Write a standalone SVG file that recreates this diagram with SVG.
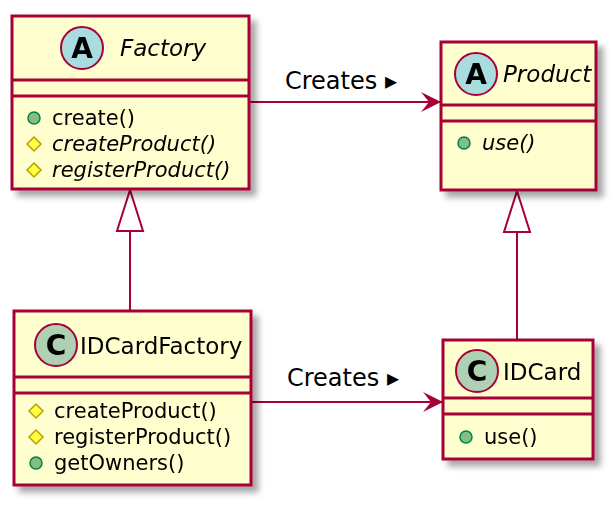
<svg xmlns="http://www.w3.org/2000/svg" width="614" height="505" viewBox="0 0 614 505">
<defs>
<filter id="sh" x="-10%" y="-10%" width="130%" height="130%"><feGaussianBlur in="SourceAlpha" stdDeviation="3"/><feOffset dx="6" dy="6"/><feComponentTransfer><feFuncA type="linear" slope="0.35"/></feComponentTransfer><feMerge><feMergeNode/><feMergeNode in="SourceGraphic"/></feMerge></filter>
<marker id="arr" markerWidth="22" markerHeight="20" refX="20" refY="10" orient="auto" markerUnits="userSpaceOnUse"><path d="M0,0 L20,10 L0,20 L8,10 Z" fill="#A80036"/></marker>
</defs>
<style>
.box{fill:#FEFECE;stroke:#A80036;stroke-width:3}
.ln{stroke:#A80036;stroke-width:3}
.t{font-family:"DejaVu Sans",sans-serif;font-size:23px;fill:#000}
.cr{font-family:"DejaVu Sans",sans-serif;font-size:24px;fill:#000}
.m{font-family:"DejaVu Sans",sans-serif;font-size:21px;fill:#000}
.i{font-style:italic}
.c{stroke:#A80036;stroke-width:2;fill:none}
.pub{fill:#84BE84;stroke:#038048;stroke-width:1.5}
.pro{fill:#FFFF44;stroke:#B8A000;stroke-width:1.5}
.ic{font-family:"DejaVu Sans",sans-serif;font-size:28px;font-weight:bold;text-anchor:middle}
</style>
<g id="connectors">
<line class="c" x1="249" y1="102" x2="441" y2="102" marker-end="url(#arr)"/>
<text class="cr" x="285" y="89">Creates ▸</text>
<line class="c" x1="251" y1="402" x2="443" y2="402" marker-end="url(#arr)"/>
<text class="cr" x="287" y="386">Creates ▸</text>
<line class="c" x1="130" y1="310" x2="130" y2="231"/>
<polygon class="c" points="130,190 117,231 143,231"/>
<line class="c" x1="517" y1="339" x2="517" y2="232"/>
<polygon class="c" points="517,191 504,232 530,232"/>
</g>
<g id="Factory" filter="url(#sh)">
<rect class="box" x="12" y="16" width="237" height="173"/>
<line class="ln" x1="12" y1="80" x2="249" y2="80"/>
<line class="ln" x1="12" y1="96" x2="249" y2="96"/>
<circle cx="82" cy="48" r="21" fill="#A9DCDF" stroke="#A80036" stroke-width="2"/>
<text class="ic" x="82" y="58">A</text>
<text class="t i" x="120" y="56">Factory</text>
<circle class="pub" cx="34" cy="118" r="6"/><text class="m" x="52" y="125">create()</text>
<polygon class="pro" points="34,137 41,144 34,151 27,144"/><text class="m i" x="52" y="151">createProduct()</text>
<polygon class="pro" points="34,163 41,170 34,177 27,170"/><text class="m i" x="52" y="177">registerProduct()</text>
</g>
<g id="Product" filter="url(#sh)">
<rect class="box" x="441" y="42" width="155" height="148"/>
<line class="ln" x1="441" y1="105" x2="596" y2="105"/>
<line class="ln" x1="441" y1="121" x2="596" y2="121"/>
<circle cx="476" cy="74" r="21" fill="#A9DCDF" stroke="#A80036" stroke-width="2"/>
<text class="ic" x="476" y="84">A</text>
<text class="t i" x="503" y="82">Product</text>
<circle class="pub" cx="464" cy="143" r="6"/><text class="m i" x="482" y="150">use()</text>
</g>
<g id="IDCardFactory" filter="url(#sh)">
<rect class="box" x="14" y="311" width="237" height="174"/>
<line class="ln" x1="14" y1="377" x2="251" y2="377"/>
<line class="ln" x1="14" y1="393" x2="251" y2="393"/>
<circle cx="56" cy="345" r="21" fill="#ADD1B2" stroke="#A80036" stroke-width="2"/>
<text class="ic" x="56" y="355">C</text>
<text class="t" x="80" y="354">IDCardFactory</text>
<polygon class="pro" points="36,404 43,411 36,418 29,411"/><text class="m" x="54" y="418">createProduct()</text>
<polygon class="pro" points="36,430 43,437 36,444 29,437"/><text class="m" x="54" y="444">registerProduct()</text>
<circle class="pub" cx="36" cy="463" r="6"/><text class="m" x="54" y="470">getOwners()</text>
</g>
<g id="IDCard" filter="url(#sh)">
<rect class="box" x="443" y="340" width="150" height="119"/>
<line class="ln" x1="443" y1="398" x2="593" y2="398"/>
<line class="ln" x1="443" y1="414" x2="593" y2="414"/>
<circle cx="477" cy="371" r="21" fill="#ADD1B2" stroke="#A80036" stroke-width="2"/>
<text class="ic" x="477" y="381">C</text>
<text class="t" x="503" y="380">IDCard</text>
<circle class="pub" cx="466" cy="437" r="6"/><text class="m" x="484" y="444">use()</text>
</g>
</svg>
